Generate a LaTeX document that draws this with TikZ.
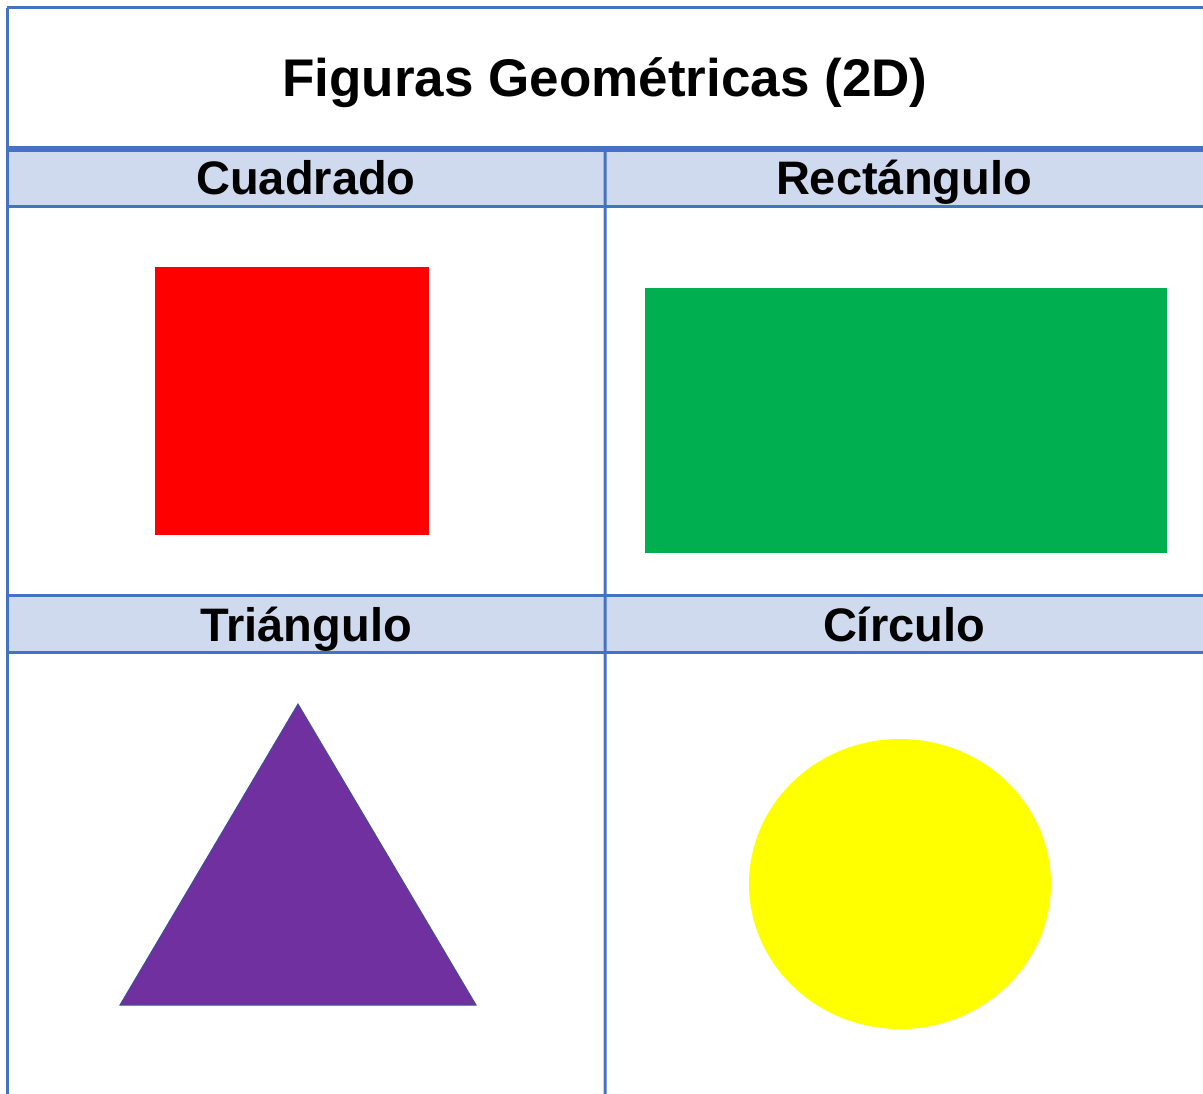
\documentclass[tikz,border=0pt]{standalone}
\usepackage{fontspec}
\setmainfont{Liberation Sans}
\usepackage{xcolor}
\usetikzlibrary{shapes.geometric}
\definecolor{gridBlue}{RGB}{68,114,196}
\definecolor{headFill}{RGB}{207,218,238}
\definecolor{squareRed}{RGB}{255,0,0}
\definecolor{rectGreen}{RGB}{0,176,80}
\definecolor{triPurple}{RGB}{112,48,160}
\definecolor{triEdge}{RGB}{60,80,150}
\definecolor{circYellow}{RGB}{255,255,0}

\begin{document}
\begin{tikzpicture}[x=1pt, y=-1pt,
    headCell/.style={fill=headFill, minimum width=598pt, minimum height=57pt, inner sep=0pt,
                     text height=40pt, text depth=5pt, font=\fontsize{47}{50}\selectfont\bfseries},
    gridLine/.style={draw=gridBlue, line width=3pt}]
                \useasboundingbox (0,0) rectangle (1203,1094);
                % title
                \node[anchor=base, font=\fontsize{53}{56}\selectfont\bfseries] (title) at (605,97) {Figuras Geométricas (2D)};
                % header cells
                \node[headCell] (cuadrado) at (306,177.5) {Cuadrado};
                \node[headCell] (rectangulo) at (904,177.5) {Rectángulo};
                \node[headCell] (triangulo) at (306,624) {Triángulo};
                \node[headCell] (circulo) at (904,624) {Círculo};
                % shapes
                \node[fill=squareRed, minimum width=274pt, minimum height=268pt, inner sep=0pt] (square) at (292,401) {};
                \node[fill=rectGreen, minimum width=522pt, minimum height=265pt, inner sep=0pt] (rect) at (906,420.5) {};
                \filldraw[fill=triPurple, draw=triEdge, line width=1pt] (298,704) -- (476,1005) -- (120,1005) -- cycle;
                \node[ellipse, fill=circYellow, minimum width=302pt, minimum height=290pt, inner sep=0pt] (circle) at (900,884) {};
                % grid
                \draw[gridLine] (7,8) -- (1203,8);
                \draw[gridLine] (7,8) -- (7,1094);
                \draw[gridLine, line width=6pt] (cuadrado.north west) -- (rectangulo.north east);
                \draw[gridLine] (cuadrado.south west) -- (rectangulo.south east);
                \draw[gridLine] (triangulo.north west) -- (circulo.north east);
                \draw[gridLine] (triangulo.south west) -- (circulo.south east);
                \draw[gridLine] (cuadrado.north east) -- (605,1094);
            \end{tikzpicture}
\end{document}
